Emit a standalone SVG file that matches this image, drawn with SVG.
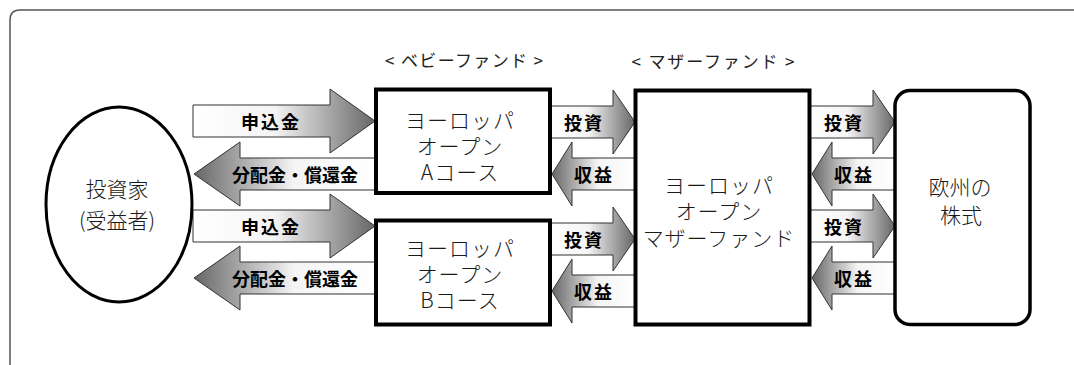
<svg xmlns="http://www.w3.org/2000/svg" width="1074" height="365" viewBox="0 0 1074 365">
<defs>
<linearGradient id="gR" x1="0" y1="0" x2="1" y2="0">
<stop offset="0" stop-color="#ffffff"/>
<stop offset="0.45" stop-color="#f4f4f4"/>
<stop offset="1" stop-color="#666666"/>
</linearGradient>
<linearGradient id="gL" x1="0" y1="0" x2="1" y2="0">
<stop offset="0" stop-color="#666666"/>
<stop offset="0.55" stop-color="#f4f4f4"/>
<stop offset="1" stop-color="#ffffff"/>
</linearGradient>
</defs>
<style>
.frame{fill:none;stroke:#555;stroke-width:1.5}
.box{fill:#fff;stroke:#000;stroke-width:4}
.ar{stroke:#333;stroke-width:1;stroke-linejoin:miter}
.r{fill:url(#gR)}
.l{fill:url(#gL)}
.lab{font-family:"Noto Sans CJK JP","Noto Sans",sans-serif;font-weight:700;font-size:18px;fill:#000;text-anchor:middle;dominant-baseline:central}
.txt{font-family:"Noto Sans CJK JP","Noto Sans",sans-serif;font-weight:300;font-size:21px;fill:#1a1a1a;text-anchor:middle;dominant-baseline:central}
.hd{font-family:"Noto Sans CJK JP","Noto Sans",sans-serif;font-weight:400;font-size:17px;fill:#222;text-anchor:middle;dominant-baseline:central}
</style>
<rect width="1074" height="365" fill="#fff"/>
<path class="frame" d="M10,370 V20 Q10,10 20,10 H1074"/>
<text class="hd" x="464" y="59" textLength="158" lengthAdjust="spacing">&lt; ベビーファンド &gt;</text>
<text class="hd" x="713" y="60" textLength="163" lengthAdjust="spacing">&lt; マザーファンド &gt;</text>
<g id="connectors">
<polygon class="ar r" points="193,105 330,105 330,89 375,121 330,153 330,137 193,137"/>
<polygon class="ar l" points="375,158 240,158 240,142 194,174 240,206 240,190 375,190"/>
<polygon class="ar r" points="193,210 330,210 330,194 375,226 330,258 330,242 193,242"/>
<polygon class="ar l" points="375,262 240,262 240,246 194,278 240,310 240,294 375,294"/>
<polygon class="ar r" points="550,106 613,106 613,90 635,122 613,154 613,138 550,138"/>
<polygon class="ar l" points="635,158 572,158 572,142 552,174 572,206 572,190 635,190"/>
<polygon class="ar r" points="550,223 613,223 613,207 635,239 613,271 613,255 550,255"/>
<polygon class="ar l" points="635,275 572,275 572,259 552,291 572,323 572,307 635,307"/>
<polygon class="ar r" points="810,106 873,106 873,90 895,122 873,154 873,138 810,138"/>
<polygon class="ar l" points="895,158 832,158 832,142 812,174 832,206 832,190 895,190"/>
<polygon class="ar r" points="810,210 873,210 873,194 895,226 873,258 873,242 810,242"/>
<polygon class="ar l" points="895,262 832,262 832,246 812,278 832,310 832,294 895,294"/>
<text class="lab" x="271" y="121" letter-spacing="2">申込金</text>
<text class="lab" x="295" y="174" font-size="19">分配金・償還金</text>
<text class="lab" x="271" y="226" letter-spacing="2">申込金</text>
<text class="lab" x="295" y="278" font-size="19">分配金・償還金</text>
<text class="lab" x="584" y="122" letter-spacing="2">投資</text>
<text class="lab" x="594" y="174" letter-spacing="2">収益</text>
<text class="lab" x="584" y="239" letter-spacing="2">投資</text>
<text class="lab" x="594" y="291" letter-spacing="2">収益</text>
<text class="lab" x="844" y="122" letter-spacing="2">投資</text>
<text class="lab" x="854" y="174" letter-spacing="2">収益</text>
<text class="lab" x="844" y="226" letter-spacing="2">投資</text>
<text class="lab" x="854" y="278" letter-spacing="2">収益</text>
</g>
<g id="investor">
<ellipse cx="119" cy="204.5" rx="73" ry="97.5" fill="#fff" stroke="#000" stroke-width="3"/>
<text class="txt" x="117" y="188" font-size="23">投資家</text>
<text class="txt" x="117" y="219" font-size="23">(受益者)</text>
</g>
<g id="babyA">
<rect class="box" x="376" y="89.5" width="174" height="103.5"/>
<text class="txt" x="460" y="119" letter-spacing="1">ヨーロッパ</text>
<text class="txt" x="460" y="145" letter-spacing="1">オープン</text>
<text class="txt" x="460" y="171" letter-spacing="1">Aコース</text>
</g>
<g id="babyB">
<rect class="box" x="376" y="220.5" width="174" height="104"/>
<text class="txt" x="460" y="247" letter-spacing="1">ヨーロッパ</text>
<text class="txt" x="460" y="273" letter-spacing="1">オープン</text>
<text class="txt" x="460" y="299" letter-spacing="1">Bコース</text>
</g>
<g id="mother">
<rect class="box" x="635.5" y="90.5" width="174" height="234"/>
<text class="txt" x="719" y="184" letter-spacing="1">ヨーロッパ</text>
<text class="txt" x="719" y="210" letter-spacing="1">オープン</text>
<text class="txt" x="719" y="237" letter-spacing="1">マザーファンド</text>
</g>
<g id="stocks">
<rect x="895" y="90.5" width="135" height="234" rx="15" fill="#fff" stroke="#000" stroke-width="3.5"/>
<text class="txt" x="960" y="186" font-size="23">欧州の</text>
<text class="txt" x="961" y="214" font-size="23">株式</text>
</g>
</svg>
